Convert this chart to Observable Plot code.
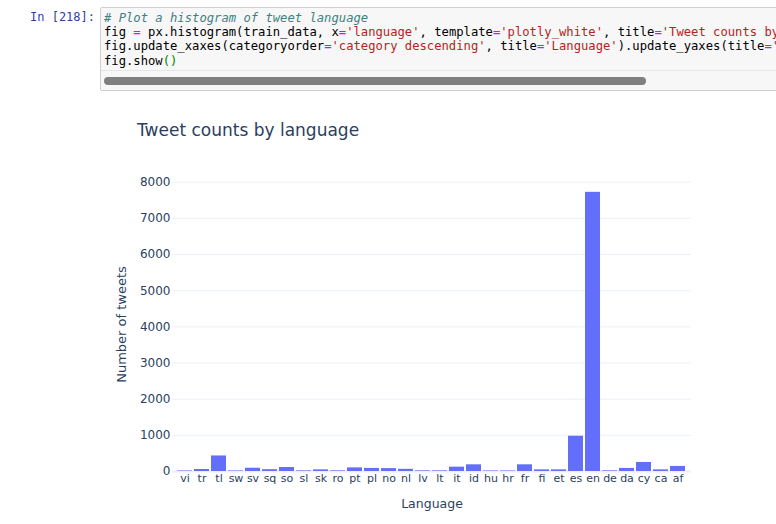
<!DOCTYPE html>
<html>
<head>
<meta charset="utf-8">
<script src="https://cdn.jsdelivr.net/npm/d3@7"></script>
<script src="https://cdn.jsdelivr.net/npm/@observablehq/plot@0.6"></script>
<style>
  html, body { margin: 0; padding: 0; background: #fff; }
  body { width: 776px; height: 524px; position: relative; overflow: hidden; }
  .prompt { position: absolute; left: 30px; top: 10px; font: 12px "DejaVu Sans Mono", monospace; color: #303F9F; line-height: 14.2px; }
  .cell { position: absolute; left: 100px; top: 7px; width: 690px; height: 82px; background: #f7f7f7; border: 1px solid #cfcfcf; border-radius: 2px; overflow: hidden; }
  .code { position: absolute; left: 3px; top: 3px; font: 12.2px "DejaVu Sans Mono", monospace; line-height: 14.2px; white-space: pre; color: #000; }
  .scrollarea { position: absolute; left: 0; right: 0; top: 62px; bottom: 0; background: #f7f7f7; border-top: 1px solid #e6e6e6; }
  .thumb { position: absolute; left: 3px; top: 6px; width: 542px; height: 8px; background: #7f7f7f; border-radius: 4px; }
  .c { color: #408080; font-style: italic; }
  .o { color: #AA22FF; }
  .s { color: #BA2121; }
  .g { color: #008000; }
  .title { position: absolute; left: 137px; top: 120px; font: 17px "DejaVu Sans", sans-serif; color: #2a3f5f; white-space: nowrap; }
  #chart { position: absolute; left: 0; top: 100px; }
</style>
</head>
<body>
<div class="prompt">In [218]:</div>
<div class="cell">
  <div class="code"><span class="c"># Plot a histogram of tweet language</span>
fig <span class="o">=</span> px.histogram(train_data, x<span class="o">=</span><span class="s">'language'</span>, template<span class="o">=</span><span class="s">'plotly_white'</span>, title<span class="o">=</span><span class="s">'Tweet counts by language'</span>)
fig.update_xaxes(categoryorder<span class="o">=</span><span class="s">'category descending'</span>, title<span class="o">=</span><span class="s">'Language'</span>).update_yaxes(title<span class="o">=</span><span class="s">'Number of tweets'</span>)
fig.show<span class="g">()</span></div>
  <div class="scrollarea"><div class="thumb"></div></div>
</div>
<div class="title">Tweet counts by language</div>
<div id="chart"></div>
<script>
const languages = ["vi","tr","tl","sw","sv","sq","so","sl","sk","ro","pt","pl","no","nl","lv","lt","it","id","hu","hr","fr","fi","et","es","en","de","da","cy","ca","af"];
const counts    = [15, 55, 430, 15, 90, 50, 110, 18, 45, 18, 100, 85, 80, 60, 18, 18, 120, 185, 15, 15, 185, 45, 45, 975, 7720, 18, 85, 250, 45, 140];
const yTicks = [0, 1000, 2000, 3000, 4000, 5000, 6000, 7000, 8000];

const data = languages.map((lang, i) => ({lang, count: counts[i]}));

const chart = Plot.plot({
  width: 776,
  height: 424,
  marginTop: 77,
  marginLeft: 172,
  marginRight: 85,
  marginBottom: 53,
  style: { fontFamily: "DejaVu Sans, sans-serif", fontSize: "12px", color: "#2a3f5f", background: "transparent" },
  x: { domain: languages, padding: 0.1 },
  y: { domain: [0, 8130] },
  marks: [
    Plot.gridY(yTicks, { stroke: "#EBF0F8", strokeOpacity: 1 }),
    Plot.ruleY([0], { stroke: "#EBF0F8", strokeWidth: 2 }),
    Plot.barY(data, { x: "lang", y: "count", fill: "#636efa" }),
    Plot.axisX({ tickSize: 0, tickPadding: 3, label: null, fontSize: 11 }),
    Plot.axisX({ ticks: [], tickSize: 0, label: "Language", labelAnchor: "center", labelOffset: 36, labelArrow: "none", fontSize: 12.5 }),
    Plot.axisY(yTicks, { tickSize: 0, tickPadding: 2, tickFormat: d => String(d), label: null, fontSize: 12 }),
    Plot.axisY({ ticks: [], tickSize: 0, label: "Number of tweets", labelAnchor: "center", labelOffset: 56, labelArrow: "none", fontSize: 13 })
  ]
});
document.getElementById("chart").appendChild(chart);
</script>
</body>
</html>
